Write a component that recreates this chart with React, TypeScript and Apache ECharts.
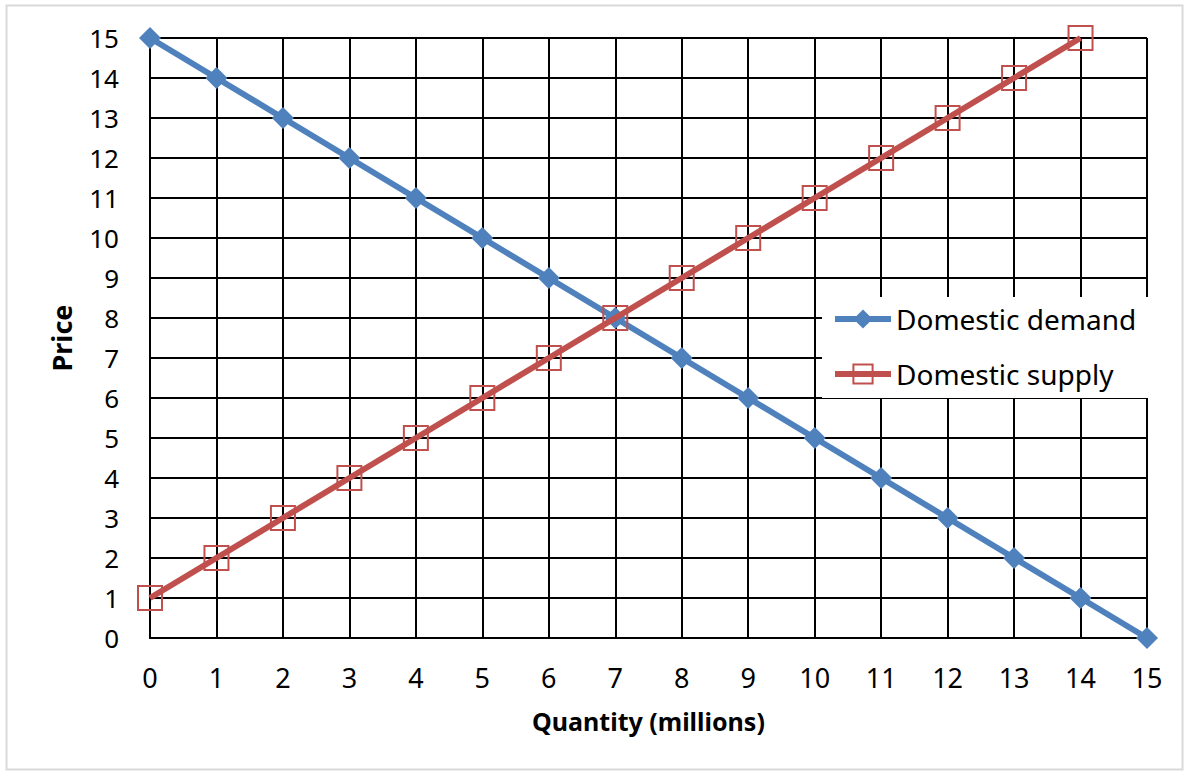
import React, { useEffect, useRef } from "react";
import * as echarts from "echarts";

const quantities = [0, 1, 2, 3, 4, 5, 6, 7, 8, 9, 10, 11, 12, 13, 14, 15];
const demandPrices = [15, 14, 13, 12, 11, 10, 9, 8, 7, 6, 5, 4, 3, 2, 1, 0];
const supplyQuantities = [0, 1, 2, 3, 4, 5, 6, 7, 8, 9, 10, 11, 12, 13, 14];
const supplyPrices = [1, 2, 3, 4, 5, 6, 7, 8, 9, 10, 11, 12, 13, 14, 15];

const FONT = "'Noto Sans', 'Open Sans', sans-serif";

export default function App() {
  const ref = useRef<HTMLDivElement>(null);
  useEffect(() => {
    if (!ref.current) return;
    const chart = echarts.init(ref.current, null, { renderer: "svg" });
    chart.setOption({
      animation: false,
      backgroundColor: "#ffffff",
      graphic: [
        {
          type: "rect",
          shape: { x: 6.5, y: 5.5, width: 1176, height: 764 },
          style: { fill: "none", stroke: "#d9d9d9", lineWidth: 2 },
          z: -10,
        },
      ],
      grid: { left: 150, right: 40, top: 38, bottom: 137 },
      xAxis: {
        type: "value",
        min: 0,
        max: 15,
        interval: 1,
        name: "Quantity (millions)",
        nameLocation: "middle",
        nameGap: 70,
        nameTextStyle: { fontFamily: FONT, fontSize: 25, fontWeight: "bold", color: "#000" },
        axisLine: { lineStyle: { color: "#000", width: 2 } },
        axisTick: { show: false },
        axisLabel: { fontFamily: FONT, fontSize: 27, color: "#000", margin: 26 },
        splitLine: { show: true, lineStyle: { color: "#000", width: 2 } },
      },
      yAxis: {
        type: "value",
        min: 0,
        max: 15,
        interval: 1,
        name: "Price",
        nameLocation: "middle",
        nameGap: 75,
        nameRotate: 90,
        nameTextStyle: { fontFamily: FONT, fontSize: 27, fontWeight: "bold", color: "#000" },
        axisLine: { show: true, lineStyle: { color: "#000", width: 2 } },
        axisTick: { show: false },
        axisLabel: {
          fontFamily: FONT,
          fontSize: 26,
          color: "#000",
          margin: 31,
          formatter: "{t|{value}}",
          rich: { t: { fontFamily: FONT, fontSize: 26, color: "#000" } },
        },
        splitLine: { show: true, lineStyle: { color: "#000", width: 2 } },
      },
      legend: {
        orient: "vertical",
        left: 822,
        top: 297,
        backgroundColor: "#ffffff",
        padding: [8, 12, 10, 10],
        itemWidth: 56,
        itemHeight: 24,
        itemGap: 27,
        lineStyle: { width: 6 },
        textStyle: { fontFamily: FONT, fontSize: 28, color: "#000" },
        data: ["Domestic demand", "Domestic supply"],
      },
      series: [
        {
          name: "Domestic demand",
          type: "line",
          data: quantities.map((q, i) => [q, demandPrices[i]]),
          symbol: "diamond",
          symbolSize: 22,
          lineStyle: { color: "#4F81BD", width: 6 },
          itemStyle: { color: "#4F81BD" },
          z: 3,
        },
        {
          name: "Domestic supply",
          type: "line",
          data: supplyQuantities.map((q, i) => [q, supplyPrices[i]]),
          symbol: "rect",
          symbolSize: 24,
          showAllSymbol: true,
          lineStyle: { color: "#C0504D", width: 6 },
          itemStyle: { color: "rgba(0,0,0,0)", borderColor: "#C0504D", borderWidth: 2 },
          z: 4,
        },
      ],
    });
    return () => chart.dispose();
  }, []);
  return (
    <div
      ref={ref}
      style={{ position: "absolute", left: 0, top: 0, width: 1187, height: 775 }}
    />
  );
}
